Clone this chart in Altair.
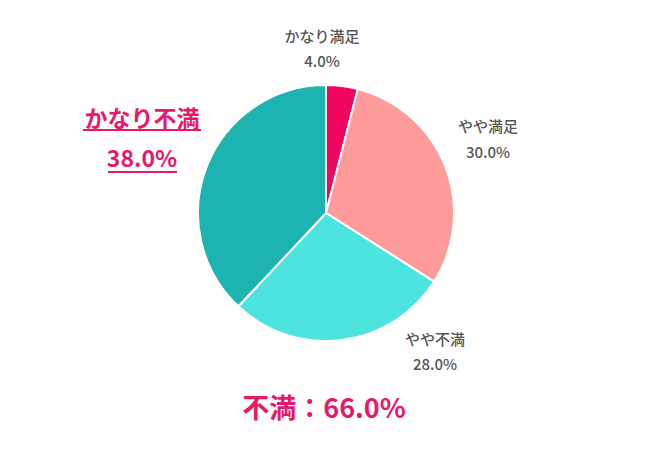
import altair as alt
import pandas as pd

categories = ["かなり満足", "やや満足", "やや不満", "かなり不満"]
values = [4.0, 30.0, 28.0, 38.0]
colors = ["#F0065E", "#FF9B9B", "#4DE4E0", "#1DB3B1"]

df = pd.DataFrame({"category": categories, "value": values, "order": list(range(len(categories)))})

FONT = "Noto Sans CJK JP"
GRAY = "#555555"
PINK = "#E8186B"

pie = alt.Chart(df).mark_arc(outerRadius=128, stroke="white", strokeWidth=2).encode(
    theta=alt.Theta("value:Q", stack=True),
    color=alt.Color("category:N", scale=alt.Scale(domain=categories, range=colors), legend=None),
    order=alt.Order("order:Q"),
    x=alt.value(318),
    y=alt.value(205),
)

def label(cat, x, y_name, y_pct, size=15, color=GRAY, weight=500):
    base = alt.Chart(df).transform_filter(alt.datum.category == cat).transform_calculate(
        pct=alt.expr.format(alt.datum.value, ".1f") + "%"
    )
    t1 = base.mark_text(font=FONT, fontSize=size, fontWeight=weight, color=color, baseline="middle").encode(
        text="category:N", x=alt.value(x), y=alt.value(y_name)
    )
    t2 = base.mark_text(font=FONT, fontSize=size, fontWeight=weight, color=color, baseline="middle").encode(
        text="pct:N", x=alt.value(x), y=alt.value(y_pct)
    )
    return t1 + t2

l1 = label("かなり満足", 314, 29, 54)
l2 = label("やや満足", 480, 119, 145)
l3 = label("やや不満", 427, 332, 357)
l4 = label("かなり不満", 134, 112, 152, size=23, color=PINK, weight="bold")

u1 = alt.Chart(df).transform_filter(alt.datum.category == "かなり不満").mark_rule(color=PINK, strokeWidth=2).encode(
    x=alt.value(75), x2=alt.value(193), y=alt.value(122)
)
u2 = alt.Chart(df).transform_filter(alt.datum.category == "かなり不満").mark_rule(color=PINK, strokeWidth=2).encode(
    x=alt.value(100), x2=alt.value(169), y=alt.value(164)
)

total = alt.Chart(df).transform_filter(
    (alt.datum.category == "やや不満") | (alt.datum.category == "かなり不満")
).transform_aggregate(total="sum(value)").transform_calculate(
    txt="不満：" + alt.expr.format(alt.datum.total, ".1f") + "%"
).mark_text(font=FONT, fontSize=27, fontWeight="bold", color=PINK, baseline="middle").encode(
    text="txt:N", x=alt.value(316), y=alt.value(402)
)

chart = alt.layer(pie, l1, l2, l3, l4, u1, u2, total).properties(
    width=634, height=434, padding=0, autosize=alt.AutoSizeParams(type="none")
).configure(background="white").configure_view(stroke=None, strokeWidth=0)

chart.save("out.html", embed_options={"renderer": "svg", "actions": False})
